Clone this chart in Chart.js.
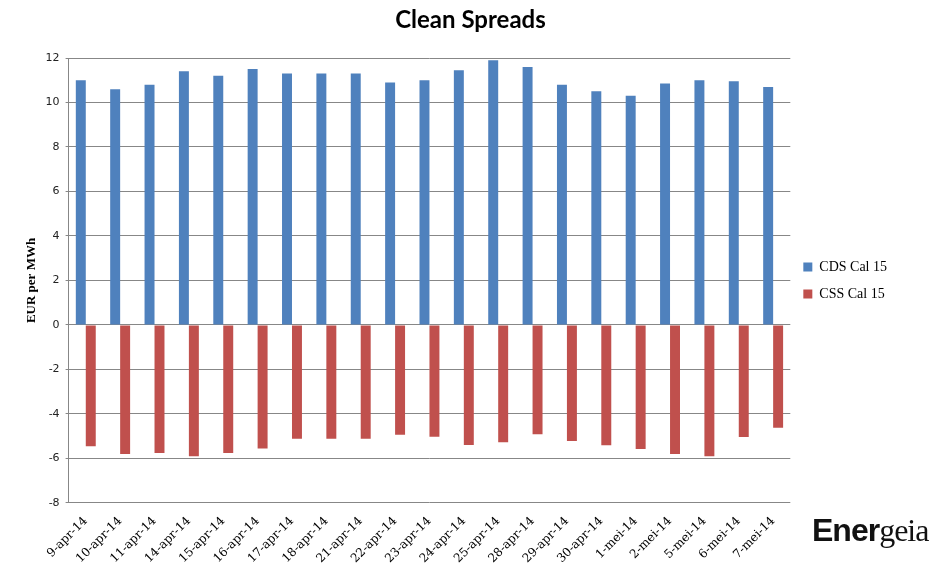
<!DOCTYPE html>
<html>
<head>
<meta charset="utf-8">
<script src="https://cdn.jsdelivr.net/npm/chart.js@4/dist/chart.umd.min.js"></script>
<style>
  body { margin: 0; background: #fff; }
  #wrap { position: relative; width: 941px; height: 583px; }
  #title {
    position: absolute; left: 0; top: 4px; width: 941px; text-align: center;
    font-family: Lato, sans-serif; font-weight: bold; font-size: 24px; line-height: 29px; color: #000;
  }
  #logo {
    position: absolute; left: 812px; top: 514px;
    font-size: 32px; line-height: 1; color: #111; letter-spacing: -1px;
  }
  #logo b { font-family: "Liberation Sans Narrow", "Liberation Sans", sans-serif; font-weight: bold; }
  #logo span { font-family: "Liberation Serif", serif; font-weight: normal; }
</style>
</head>
<body>
<div id="wrap">
  <canvas id="spreadChart"></canvas>
  <div id="title">Clean Spreads</div>
  <div id="logo"><b>Ener</b><span>geia</span></div>
</div>
<script>
const dates = ['9-apr-14', '10-apr-14', '11-apr-14', '14-apr-14', '15-apr-14', '16-apr-14', '17-apr-14',
  '18-apr-14', '21-apr-14', '22-apr-14', '23-apr-14', '24-apr-14', '25-apr-14', '28-apr-14',
  '29-apr-14', '30-apr-14', '1-mei-14', '2-mei-14', '5-mei-14', '6-mei-14', '7-mei-14'];
const cdsCal15 = [11.0, 10.6, 10.8, 11.4, 11.2, 11.5, 11.3, 11.3, 11.3, 10.9, 11.0, 11.45, 11.9, 11.6,
  10.8, 10.5, 10.3, 10.85, 11.0, 10.95, 10.7];
const cssCal15 = [-5.45, -5.8, -5.75, -5.9, -5.75, -5.55, -5.12, -5.12, -5.12, -4.94, -5.03, -5.4, -5.27, -4.91,
  -5.22, -5.41, -5.57, -5.8, -5.9, -5.04, -4.62];
const yTicks = [-8, -6, -4, -2, 0, 2, 4, 6, 8, 10, 12];

const gridColor = '#878787';

// keep the legend centred on the plot area, like Excel does
const legendToPlot = {
  id: 'legendToPlot',
  afterLayout(chart) {
    chart.legend.top = chart.chartArea.top;
    chart.legend.bottom = chart.chartArea.bottom;
  }
};

new Chart(document.querySelector('#spreadChart'), {
  type: 'bar',
  data: {
    labels: dates,
    datasets: [
      { label: 'CDS Cal 15', data: cdsCal15, backgroundColor: '#4f81bd' },
      { label: 'CSS Cal 15', data: cssCal15, backgroundColor: '#c0504d' }
    ]
  },
  plugins: [legendToPlot],
  options: {
    responsive: true,
    maintainAspectRatio: false,
    animation: false,
    categoryPercentage: 0.58,
    barPercentage: 1.0,
    layout: { padding: { top: 58, right: 44, bottom: 14, left: 24 } },
    plugins: {
      legend: {
        position: 'right',
        labels: {
          color: '#000',
          boxWidth: 9,
          boxHeight: 9,
          padding: 13,
          font: { family: 'Liberation Serif', size: 14 }
        }
      },
      tooltip: { enabled: false }
    },
    scales: {
      x: {
        grid: { display: false },
        border: { display: false },
        ticks: {
          color: '#000',
          minRotation: 45,
          maxRotation: 45,
          autoSkip: false,
          font: { family: 'DejaVu Serif', size: 12 }
        }
      },
      y: {
        min: -8,
        max: 12,
        afterBuildTicks: (axis) => { axis.ticks = yTicks.map((v) => ({ value: v })); },
        grid: { color: gridColor, tickLength: 3 },
        border: { display: true, color: gridColor },
        ticks: {
          color: '#222',
          padding: 6,
          font: { family: 'DejaVu Sans', size: 11 }
        },
        title: {
          display: true,
          text: 'EUR per MWh',
          color: '#000',
          padding: { top: 0, bottom: 0 },
          font: { family: 'Liberation Serif', size: 13, weight: 'bold' }
        }
      }
    }
  }
});
</script>
</body>
</html>
